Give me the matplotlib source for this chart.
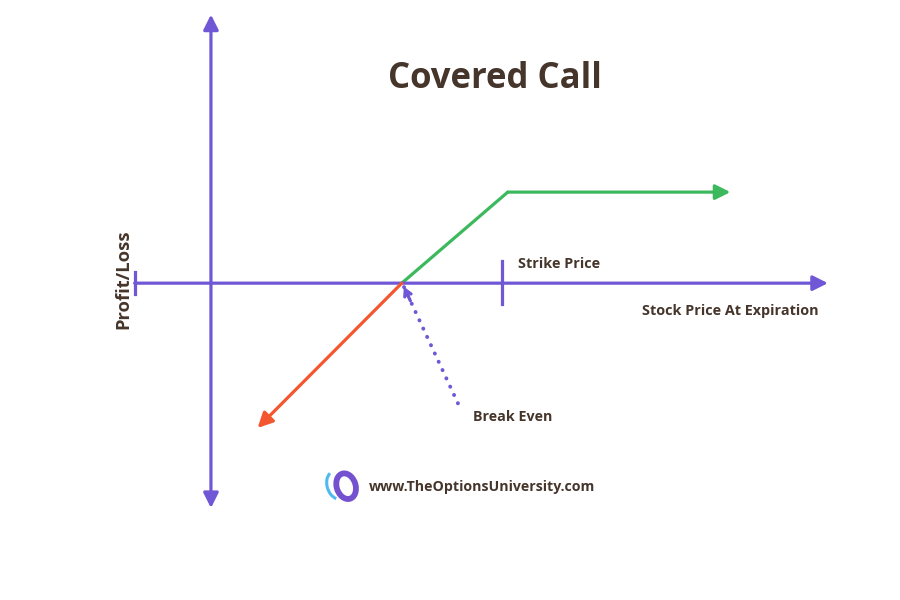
import matplotlib.pyplot as plt
from matplotlib.patches import Ellipse, Arc

plt.rcParams['font.family'] = ['Open Sans', 'DejaVu Sans']

# payoff diagram values (price units, P/L units)
breakeven = 18.0
strike = 28.0
strike_tick = 27.5
max_profit = 10.0
green_end = 49.0
red_end = (4.4, -15.9)
x_axis = (-7.2, 58.2)
y_axis = (-24.7, 29.5)
hint_tail = (23.3, -13.2)
hint_head = (18.2, -0.4)

PURPLE = '#6f57d6'
GREEN = '#3cb95c'
RED = '#f4572f'
BROWN = '#45352b'

fig = plt.figure(figsize=(9, 6), dpi=100)
ax = fig.add_axes([0, 0, 1, 1])
ax.set_xlim(-19.9, 65.0)
ax.set_ylim(-34.8, 31.1)
ax.axis('off')


def arrow(start, end, color, lw=2.3, hw=0.45, hl=0.9):
    ax.annotate('', xy=end, xytext=start,
                arrowprops=dict(arrowstyle=f'-|>,head_width={hw},head_length={hl}',
                                color=color, lw=lw, shrinkA=0, shrinkB=0))


# axes
arrow((x_axis[0], 0), (x_axis[1], 0), PURPLE)
ax.plot([x_axis[0], x_axis[0]], [-1.2, 1.2], color=PURPLE, lw=2.3)
ax.annotate('', xy=(0, y_axis[1]), xytext=(0, y_axis[0]),
            arrowprops=dict(arrowstyle='<|-|>,head_width=0.45,head_length=0.9',
                            color=PURPLE, lw=2.3, shrinkA=0, shrinkB=0))
ax.plot([strike_tick, strike_tick], [-2.3, 2.4], color=PURPLE, lw=2.3)

# payoff
ax.plot([breakeven, strike], [0, max_profit], color=GREEN, lw=2.3, solid_capstyle='round')
arrow((strike, max_profit), (green_end, max_profit), GREEN)
arrow((breakeven, 0), red_end, RED)

# break even pointer: dotted shaft, small solid head
ax.plot([hint_tail[0], hint_head[0]], [hint_tail[1], hint_head[1]], color=PURPLE,
        lw=2.8, linestyle=(0, (0.05, 2.3)), dash_capstyle='round')
dx = (hint_head[0] - hint_tail[0]) * 0.12
dy = (hint_head[1] - hint_tail[1]) * 0.12
ax.annotate('', xy=hint_head, xytext=(hint_head[0] - dx, hint_head[1] - dy),
            arrowprops=dict(arrowstyle='->,head_width=0.25,head_length=0.45',
                            color=PURPLE, lw=2.3, shrinkA=0, shrinkB=0))

# texts
ax.text(26.8, 22.45, 'Covered Call', ha='center', va='center',
        fontsize=25, fontweight='bold', color=BROWN)
ax.text(29.0, 2.1, 'Strike Price', ha='left', va='center',
        fontsize=10.4, fontweight='bold', color=BROWN)
ax.text(40.7, -3.05, 'Stock Price At Expiration', ha='left', va='center',
        fontsize=10.4, fontweight='bold', color=BROWN)
ax.text(24.7, -14.75, 'Break Even', ha='left', va='center',
        fontsize=10.3, fontweight='bold', color=BROWN)
ax.text(-8.3, 0.4, 'Profit/Loss', ha='center', va='center', rotation=90,
        fontsize=13.2, fontweight='bold', color=BROWN)
ax.text(14.9, -22.4, 'www.TheOptionsUniversity.com', ha='left', va='center',
        fontsize=10.2, fontweight='bold', color=BROWN)

# logo
ax.add_patch(Arc((11.9, -22.2), 1.9, 3.1, angle=12, theta1=105, theta2=255,
                 ec='#4fbaf2', lw=2.2))
ax.add_patch(Ellipse((12.75, -22.3), 1.8, 2.85, angle=12,
                     fill=False, ec='#7452cf', lw=4.2))

fig.savefig('out.png', dpi=100)
